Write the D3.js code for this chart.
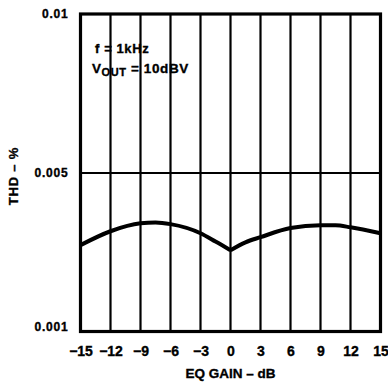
<!DOCTYPE html>
<html>
<head>
<meta charset="utf-8">
<script src="https://cdn.jsdelivr.net/npm/d3@7"></script>
<style>
  html, body { margin: 0; padding: 0; background: #fff; }
  svg { display: block; }
  text { font-family: "Liberation Sans", Arial, sans-serif; font-weight: bold; fill: #000; stroke: #000; stroke-width: 0.35px; }
</style>
</head>
<body>
<svg id="chart" width="388" height="382"></svg>
<script>
// ---- data ----
const xTicks = [-15, -12, -9, -6, -3, 0, 3, 6, 9, 12, 15];
const xTickLabels = ["\u221215", "\u221212", "\u22129", "\u22126", "\u22123", "0", "3", "6", "9", "12", "15"];
const yTicks = [0.001, 0.005, 0.01];
const yTickLabels = ["0.001", "0.005", "0.01"];
const gainLeft = [-15, -12, -9, -7.5, -6, -3, -1.5, 0];
const thdLeft  = [0.00318, 0.00353, 0.00373, 0.00375, 0.00371, 0.00348, 0.00327, 0.00305];
const gainRight = [0, 1.5, 3, 6, 9, 10.5, 12, 15];
const thdRight  = [0.00305, 0.00325, 0.00338, 0.00361, 0.00368, 0.00368, 0.00363, 0.00348];

// ---- layout ----
const L = 80.5, R = 380.5, T = 14, B = 331.5;
const svg = d3.select("#chart");

const x = d3.scaleLinear().domain([-15, 15]).range([L, R]);
const y = d3.scaleLinear().domain([0.001, 0.005, 0.01]).range([B, 173, T]);

// vertical gridlines
svg.append("g").selectAll("line")
  .data(xTicks.slice(1, -1))
  .join("line")
  .attr("x1", d => x(d)).attr("x2", d => x(d))
  .attr("y1", T).attr("y2", B)
  .attr("stroke", "#000").attr("stroke-width", 2.2);

// horizontal gridline(s)
svg.append("g").selectAll("line")
  .data(yTicks.slice(1, -1))
  .join("line")
  .attr("x1", L).attr("x2", R)
  .attr("y1", d => y(d)).attr("y2", d => y(d))
  .attr("stroke", "#000").attr("stroke-width", 2.2);

// frame
svg.append("rect")
  .attr("x", L).attr("y", T).attr("width", R - L).attr("height", B - T)
  .attr("fill", "none").attr("stroke", "#000").attr("stroke-width", 3.2);

// x axis labels
const xAxis = d3.axisBottom(x).tickValues(xTicks).tickSize(0).tickPadding(0)
  .tickFormat((d, i) => xTickLabels[i]);
const gx = svg.append("g").attr("transform", `translate(0,${B + 24})`).call(xAxis);
gx.select(".domain").remove();
gx.selectAll("text").attr("font-size", 14).attr("dy", 0).attr("font-family", null).attr("font-weight", null);

// y axis labels
const yAxis = d3.axisLeft(y).tickValues(yTicks).tickSize(0).tickPadding(12)
  .tickFormat((d, i) => yTickLabels[i]);
const gy = svg.append("g").attr("transform", `translate(${L},0)`).call(yAxis);
gy.select(".domain").remove();
gy.selectAll("text").attr("font-size", 12).attr("letter-spacing", 0.8)
  .attr("font-family", null).attr("font-weight", null);
gy.selectAll(".tick").filter(d => d === 0.001).select("text").attr("dy", "-0.05em");

// curve
const line = d3.line().x(d => x(d[0])).y(d => y(d[1])).curve(d3.curveMonotoneX);
svg.append("path")
  .attr("d", line(gainLeft.map((g, i) => [g, thdLeft[i]])))
  .attr("fill", "none").attr("stroke", "#000").attr("stroke-width", 4).attr("stroke-linejoin", "round");
svg.append("path")
  .attr("d", line(gainRight.map((g, i) => [g, thdRight[i]])))
  .attr("fill", "none").attr("stroke", "#000").attr("stroke-width", 4).attr("stroke-linejoin", "round");

// axis titles
svg.append("text").attr("x", (L + R) / 2).attr("y", 378).attr("text-anchor", "middle")
  .attr("font-size", 13.5).text("EQ GAIN \u2013 dB");
svg.append("text").attr("transform", "translate(18,176) rotate(-90)").attr("text-anchor", "middle")
  .attr("font-size", 13).attr("letter-spacing", 0.8).text("THD \u2013 %");

// annotations
svg.append("text").attr("x", 95).attr("y", 53).attr("font-size", 13).attr("letter-spacing", 0.6).text("f = 1kHz");
const v = svg.append("text").attr("x", 92).attr("y", 73).attr("font-size", 13.5).attr("letter-spacing", 0.6);
v.append("tspan").text("V");
v.append("tspan").attr("font-size", 11).attr("dy", 3).text("OUT");
v.append("tspan").attr("dy", -3).text(" = 10dBV");
</script>
</body>
</html>
